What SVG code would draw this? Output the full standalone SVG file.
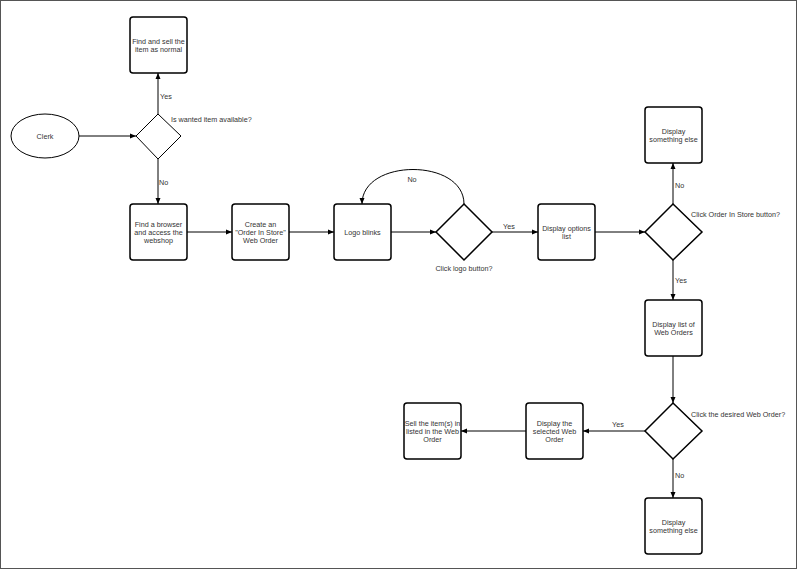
<svg xmlns="http://www.w3.org/2000/svg" width="799" height="570" viewBox="0 0 799 570">
<style>
.n{fill:#fff;stroke:#000;stroke-width:1.5}
.c{fill:none;stroke:#000;stroke-width:1}
text{font-family:"Liberation Sans",Arial,sans-serif;font-size:7.2px;fill:#333}
.m{text-anchor:middle}
</style>
<defs><marker id="a" markerWidth="8" markerHeight="8" refX="7" refY="4" orient="auto" markerUnits="userSpaceOnUse"><path d="M1,1.5 L7,4 L1,6.5 Z" fill="#000"/></marker></defs>
<rect x="0.5" y="0.5" width="796" height="568" fill="#fff" stroke="#555" stroke-width="1"/>
<g id="connectors">
<path class="c" marker-end="url(#a)" d="M79,136 H136"/>
<path class="c" marker-end="url(#a)" d="M158,114 V73"/>
<path class="c" marker-end="url(#a)" d="M158,159 V204"/>
<path class="c" marker-end="url(#a)" d="M187,232 H232"/>
<path class="c" marker-end="url(#a)" d="M289,232 H334"/>
<path class="c" marker-end="url(#a)" d="M391,232 H436"/>
<path class="c" marker-end="url(#a)" d="M464,204 C464,158 362,158 362,204"/>
<path class="c" marker-end="url(#a)" d="M492,232 H538"/>
<path class="c" marker-end="url(#a)" d="M595,232 H645"/>
<path class="c" marker-end="url(#a)" d="M673,204 V163"/>
<path class="c" marker-end="url(#a)" d="M673,260 V300"/>
<path class="c" marker-end="url(#a)" d="M673,356 V403"/>
<path class="c" marker-end="url(#a)" d="M645,431 H583"/>
<path class="c" marker-end="url(#a)" d="M526,431 H461"/>
<path class="c" marker-end="url(#a)" d="M673,459 V498"/>
<text x="160" y="99">Yes</text>
<text x="159" y="185">No</text>
<text class="m" x="412" y="182">No</text>
<text x="503" y="229">Yes</text>
<text x="675" y="188">No</text>
<text x="675" y="283">Yes</text>
<text x="612" y="427">Yes</text>
<text x="675" y="478">No</text>
</g>
<g id="clerk"><ellipse cx="45" cy="136" rx="34" ry="22" fill="#fff" stroke="#000" stroke-width="1"/><text class="m" x="45" y="139">Clerk</text></g>
<g id="d1"><path d="M158,114 L181,136 L158,159 L136,136 Z" fill="#fff" stroke="#000" stroke-width="1"/><text x="171" y="122">Is wanted item available?</text></g>
<g id="sell"><rect class="n" x="130" y="17" width="57" height="56" rx="3"/><text class="m" x="158.5" y="44">Find and sell the</text><text class="m" x="158.5" y="52">item as normal</text></g>
<g id="browser"><rect class="n" x="130" y="204" width="57" height="56" rx="3"/><text class="m" x="158.5" y="227">Find a browser</text><text class="m" x="158.5" y="235">and access the</text><text class="m" x="158.5" y="243">webshop</text></g>
<g id="create"><rect class="n" x="232" y="204" width="57" height="56" rx="3"/><text class="m" x="260.5" y="227">Create an</text><text class="m" x="260.5" y="235">"Order In Store"</text><text class="m" x="260.5" y="243">Web Order</text></g>
<g id="logo"><rect class="n" x="334" y="204" width="57" height="56" rx="3"/><text class="m" x="362.5" y="235">Logo blinks</text></g>
<g id="d2"><path class="n" d="M464,204 L492,232 L464,260 L436,232 Z"/><text class="m" x="464" y="271">Click logo button?</text></g>
<g id="options"><rect class="n" x="538" y="204" width="57" height="56" rx="3"/><text class="m" x="566.5" y="231">Display options</text><text class="m" x="566.5" y="239">list</text></g>
<g id="d3"><path class="n" d="M673,204 L702,232 L673,260 L645,232 Z"/><text x="691" y="217">Click Order In Store button?</text></g>
<g id="else1"><rect class="n" x="645" y="107" width="57" height="56" rx="3"/><text class="m" x="673.5" y="134">Display</text><text class="m" x="673.5" y="142">something else</text></g>
<g id="list"><rect class="n" x="645" y="300" width="57" height="56" rx="3"/><text class="m" x="673.5" y="327">Display list of</text><text class="m" x="673.5" y="335">Web Orders</text></g>
<g id="d4"><path class="n" d="M673,403 L702,431 L673,459 L645,431 Z"/><text x="691" y="417">Click the desired Web Order?</text></g>
<g id="selected"><rect class="n" x="526" y="403" width="57" height="56" rx="3"/><text class="m" x="554.5" y="426">Display the</text><text class="m" x="554.5" y="434">selected Web</text><text class="m" x="554.5" y="442">Order</text></g>
<g id="sellitems"><rect class="n" x="404" y="403" width="57" height="56" rx="3"/><text class="m" x="432.5" y="426">Sell the item(s) in</text><text class="m" x="432.5" y="434">listed in the Web</text><text class="m" x="432.5" y="442">Order</text></g>
<g id="else2"><rect class="n" x="645" y="498" width="57" height="56" rx="3"/><text class="m" x="673.5" y="525">Display</text><text class="m" x="673.5" y="533">something else</text></g>
</svg>
